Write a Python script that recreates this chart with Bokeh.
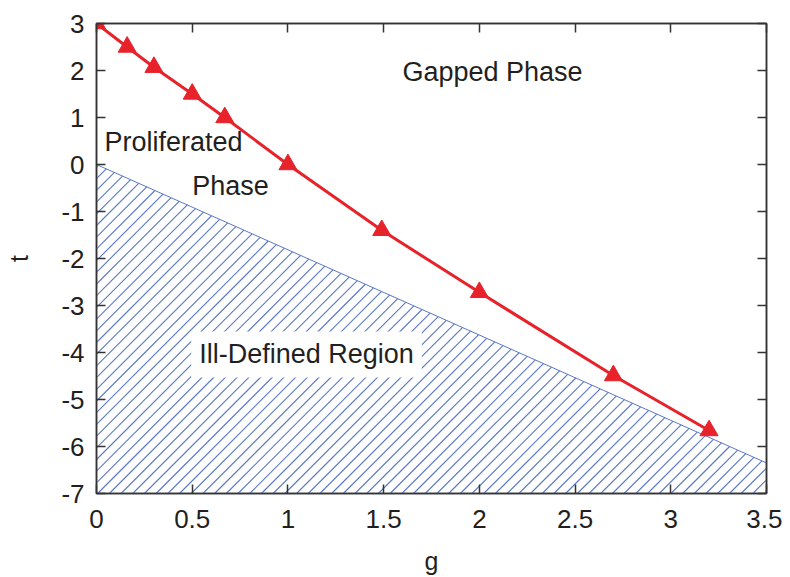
import numpy as np
from bokeh.plotting import figure
from bokeh.models import Range1d, LinearAxis, Label, FixedTicker
from bokeh.embed import file_html
from bokeh.resources import INLINE

# data
g_vals = [0.0, 0.16, 0.30, 0.50, 0.67, 1.0, 1.49, 2.0, 2.7, 3.2]
t_vals = [3.0, 2.5, 2.07, 1.5, 1.0, 0.0, -1.4, -2.72, -4.49, -5.66]
boundary_g = [0.0, 3.5]
boundary_t = [0.0, -6.35]
x_ticks = [0, 0.5, 1, 1.5, 2, 2.5, 3, 3.5]
y_ticks = [3, 2, 1, 0, -1, -2, -3, -4, -5, -6, -7]

FONT = "Liberation Sans"
INK = "#231f20"
AX = "#333333"
HATCH = "#5c78c6"

X0, X1 = 0.0, 3.5
Y0, Y1 = -7.0, 3.0
FW, FH = 670, 470

p = figure(output_backend="svg", toolbar_location=None,
           frame_width=FW, frame_height=FH,
           min_border_left=96, min_border_right=16,
           min_border_top=23, min_border_bottom=76,
           x_range=Range1d(X0, X1), y_range=Range1d(Y0, Y1),
           x_axis_label="g", y_axis_label="t")
p.grid.visible = False
p.outline_line_color = AX
p.outline_line_width = 1.5
p.background_fill_color = "white"
p.border_fill_color = "white"

# hatched region below the boundary line: 45-degree lines (in screen space)
sx = FW / (X1 - X0)
sy = FH / (Y1 - Y0)
bx0 = (boundary_g[0] - X0) * sx
by0 = (boundary_t[0] - Y0) * sy
bx1 = (boundary_g[1] - X0) * sx
by1 = (boundary_t[1] - Y0) * sy
slope = (by1 - by0) / (bx1 - bx0)
spacing = 11.7
hx, hy = [], []
for c in np.arange(-FW + 2, by0, spacing):
    if c >= 0:
        xs, ys = 0.0, c
    else:
        xs, ys = -c, 0.0
    xe = (by0 - c) / (1 - slope)
    xe = min(xe, FW)
    ye = xe + c
    if xe <= xs:
        continue
    hx.append([X0 + xs / sx, X0 + xe / sx])
    hy.append([Y0 + ys / sy, Y0 + ye / sy])
p.multi_line(hx, hy, line_color=HATCH, line_width=1.1)
p.line(boundary_g, boundary_t, line_color=HATCH, line_width=1)

# phase line
p.line(g_vals, t_vals, line_color="#e8222a", line_width=3)
p.scatter(g_vals, t_vals, marker="triangle", size=18,
          fill_color="#e8222a", line_color="#e8222a")

xa = p.xaxis[0]
ya = p.yaxis[0]
xa.ticker = FixedTicker(ticks=x_ticks)
ya.ticker = FixedTicker(ticks=y_ticks)
xa.major_label_overrides = {t: str(t) for t in x_ticks}
ya.major_label_overrides = {t: str(t) for t in y_ticks}
for ax in (xa, ya):
    ax.major_tick_in = 9
    ax.major_tick_out = 0
    ax.minor_tick_line_color = None
    ax.axis_line_color = AX
    ax.axis_line_width = 1.5
    ax.major_tick_line_color = AX
    ax.major_tick_line_width = 1.5
    ax.major_label_text_font = FONT
    ax.major_label_text_font_size = "26px"
    ax.major_label_text_color = INK
    ax.axis_label_text_font = FONT
    ax.axis_label_text_font_size = "25px"
    ax.axis_label_text_font_style = "normal"
    ax.axis_label_text_color = INK
xa.major_label_standoff = 16
ya.major_label_standoff = 12
xa.axis_label_standoff = 16
ya.axis_label_standoff = 25

top = LinearAxis(ticker=FixedTicker(ticks=x_ticks))
top.major_label_overrides = {t: "" for t in x_ticks}
right = LinearAxis(ticker=FixedTicker(ticks=y_ticks))
right.major_label_overrides = {t: "" for t in y_ticks}
for ax in (top, right):
    ax.major_tick_in = 9
    ax.major_tick_out = 0
    ax.minor_tick_line_color = None
    ax.axis_line_color = AX
    ax.axis_line_width = 1.5
    ax.major_tick_line_color = AX
    ax.major_tick_line_width = 1.5
    ax.major_label_standoff = 0
p.add_layout(top, "above")
p.add_layout(right, "right")

def lab(x, y, text, **kw):
    l = Label(x=x, y=y, text=text, text_font=FONT, text_font_size="27px",
              text_color=INK, text_align="center", text_baseline="middle", **kw)
    p.add_layout(l)

lab(2.069, 1.96, "Gapped Phase")
lab(0.402, 0.47, "Proliferated")
lab(0.70, -0.45, "Phase")
lab(1.097, -4.04, "Ill-Defined Region", background_fill_color="white", padding=8)

open("out.html", "w").write(file_html(p, INLINE))
